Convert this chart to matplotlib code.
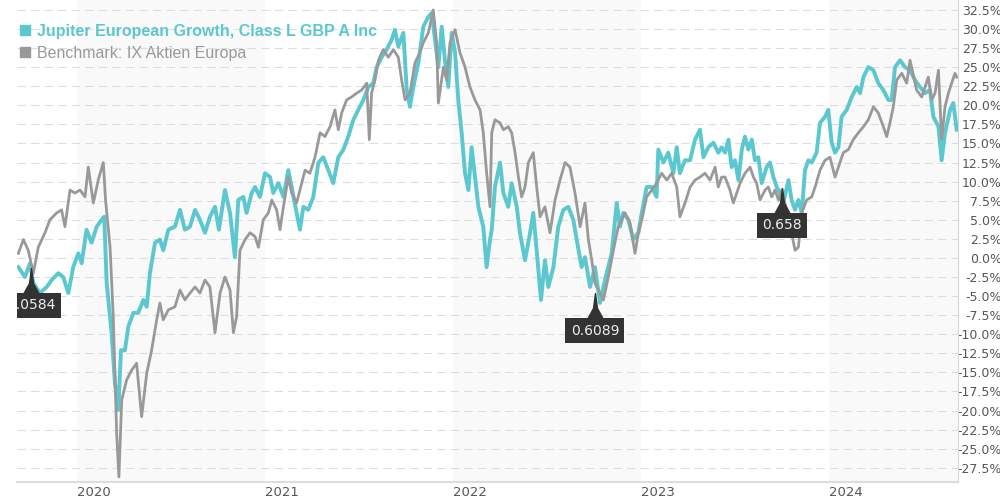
import matplotlib
matplotlib.use('Agg')
from matplotlib import pyplot as plt
from matplotlib.lines import Line2D
import numpy as np

# fund performance (% since start), time as decimal years
fund_years = [
    2019.688, 2019.723, 2019.750, 2019.768, 2019.803, 2019.839, 2019.865, 2019.901, 2019.927, 2019.954,
    2019.980, 2020.007, 2020.025, 2020.051, 2020.078, 2020.105, 2020.131, 2020.145, 2020.158, 2020.184,
    2020.202, 2020.220, 2020.234, 2020.255, 2020.273, 2020.300, 2020.326, 2020.353, 2020.371, 2020.388,
    2020.415, 2020.441, 2020.459, 2020.486, 2020.521, 2020.548, 2020.574, 2020.601, 2020.628, 2020.654,
    2020.681, 2020.707, 2020.734, 2020.755, 2020.787, 2020.814, 2020.840, 2020.858, 2020.885, 2020.902,
    2020.929, 2020.947,
    2020.973, 2021.000, 2021.027, 2021.044, 2021.071, 2021.098, 2021.124, 2021.142, 2021.168, 2021.186,
    2021.204, 2021.230, 2021.257, 2021.284, 2021.310, 2021.337, 2021.363, 2021.390, 2021.417, 2021.443,
    2021.470, 2021.496, 2021.523, 2021.550, 2021.576, 2021.594, 2021.621, 2021.647, 2021.674, 2021.691,
    2021.709, 2021.736, 2021.754, 2021.771, 2021.789, 2021.816, 2021.842, 2021.869, 2021.887, 2021.904,
    2021.922, 2021.940, 2021.957, 2021.975, 2021.993, 2022.011, 2022.028, 2022.046, 2022.064, 2022.082,
    2022.099, 2022.117, 2022.135, 2022.161, 2022.179, 2022.197,
    2022.206, 2022.223, 2022.250, 2022.268, 2022.294, 2022.312, 2022.339, 2022.356, 2022.383, 2022.410,
    2022.427, 2022.445, 2022.468, 2022.489, 2022.507, 2022.534, 2022.560, 2022.587, 2022.613, 2022.640,
    2022.658, 2022.684, 2022.702, 2022.729, 2022.755, 2022.782, 2022.800, 2022.817, 2022.844, 2022.871,
    2022.888, 2022.906, 2022.933, 2022.959, 2022.986, 2023.004, 2023.030, 2023.057, 2023.083, 2023.092,
    2023.119, 2023.145, 2023.172, 2023.190, 2023.207, 2023.234, 2023.261, 2023.287, 2023.314, 2023.332,
    2023.358, 2023.385, 2023.411, 2023.429, 2023.447,
    2023.465, 2023.482, 2023.500, 2023.518, 2023.536, 2023.553, 2023.571, 2023.589, 2023.606, 2023.624,
    2023.642, 2023.668, 2023.686, 2023.704, 2023.722, 2023.739, 2023.757, 2023.784, 2023.801, 2023.819,
    2023.837, 2023.855, 2023.872, 2023.890, 2023.908, 2023.934, 2023.952, 2023.979, 2023.996, 2024.014,
    2024.032, 2024.050, 2024.067, 2024.094, 2024.121, 2024.147, 2024.165, 2024.183, 2024.209, 2024.236,
    2024.262, 2024.289, 2024.316, 2024.333, 2024.351, 2024.378, 2024.404, 2024.431, 2024.457, 2024.484,
    2024.511, 2024.537, 2024.555, 2024.582, 2024.599, 2024.617, 2024.644, 2024.661, 2024.679,
]
fund_pct = [
    -1.2, -2.5, -0.7, -3.3, -4.6, -3.8, -2.9, -2.0, -2.5, -4.6,
    -1.2, 0.6, -0.7, 3.7, 2.0, 4.1, 5.0, 5.4, -3.3, -9.8,
    -16.4, -19.9, -12.1, -12.1, -9.0, -7.2, -7.2, -5.5, -6.4, -2.0,
    2.0, 2.4, 1.0, 3.7, 4.1, 6.3, 3.7, 4.1, 6.3, 5.0,
    3.3, 5.4, 6.7, 3.7, 8.9, 5.9, 0.1, 7.6, 8.0, 5.9,
    8.5, 9.3,
    8.0, 11.1, 10.6, 8.5, 9.8, 8.0, 11.5, 9.3, 5.9, 3.7,
    6.7, 6.3, 8.0, 12.5, 13.2, 11.5, 9.8, 13.2, 14.2, 15.9,
    18.1, 19.4, 20.7, 22.4, 22.9, 25.0, 26.3, 27.3, 28.6, 29.9,
    27.7, 29.5, 22.0, 19.8, 22.4, 25.6, 30.3, 31.6, 32.1, 28.6,
    25.0, 30.3, 25.9, 22.4, 29.5, 26.9, 20.7, 16.4, 11.1, 8.9,
    14.5, 10.6, 6.7, 4.1, -1.2, 2.4,
    3.7, 9.3, 12.5, 8.5, 6.7, 9.8, 6.7, 3.3, -0.3, 3.3,
    5.9, 1.0, -5.5, -0.3, -3.8, -1.2, 4.1, 6.3, 6.7, 5.0,
    2.4, -1.2, 0.1, -3.8, -1.2, -5.9, -3.8, -2.0, 0.6, 7.2,
    4.1, 5.9, 5.0, 2.4, 3.3, 5.9, 9.3, 9.3, 8.0, 14.2,
    12.5, 13.8, 11.1, 14.5, 11.1, 12.8, 12.8, 15.5, 16.8, 13.2,
    14.5, 15.1, 13.8, 14.5, 13.8,
    15.5, 11.9, 12.8, 10.2, 14.2, 15.9, 14.2, 15.5, 12.8, 13.2,
    9.8, 11.9, 12.5, 10.6, 9.3, 8.5, 7.2, 10.2, 7.6, 6.3,
    7.6, 5.9, 11.5, 12.8, 12.5, 13.8, 17.7, 18.5, 19.4, 15.1,
    13.8, 14.5, 18.5, 19.4, 21.1, 22.4, 21.6, 23.7, 25.0, 24.6,
    22.9, 22.0, 20.7, 20.7, 25.0, 25.9, 25.0, 24.6, 23.3, 22.4,
    21.6, 22.0, 18.5, 17.2, 12.8, 16.4, 19.4, 20.3, 16.8,
]

# benchmark
bench_years = [
    2019.688, 2019.715, 2019.741, 2019.768, 2019.794, 2019.830, 2019.856, 2019.892, 2019.918, 2019.936,
    2019.963, 2019.989, 2020.016, 2020.043, 2020.060, 2020.087, 2020.113, 2020.140, 2020.152, 2020.176,
    2020.193, 2020.211, 2020.223, 2020.238, 2020.264, 2020.291, 2020.317, 2020.344, 2020.371, 2020.397,
    2020.424, 2020.441, 2020.459, 2020.486, 2020.521, 2020.548, 2020.574, 2020.601, 2020.628, 2020.654,
    2020.681, 2020.707, 2020.734, 2020.761, 2020.787, 2020.814, 2020.832, 2020.849, 2020.867, 2020.894,
    2020.920, 2020.947,
    2020.965, 2020.991, 2021.018, 2021.036, 2021.062, 2021.080, 2021.098, 2021.124, 2021.142, 2021.168,
    2021.195, 2021.213, 2021.239, 2021.266, 2021.293, 2021.319, 2021.346, 2021.372, 2021.390, 2021.408,
    2021.434, 2021.461, 2021.488, 2021.514, 2021.541, 2021.555, 2021.567, 2021.585, 2021.603, 2021.629,
    2021.656, 2021.683, 2021.709, 2021.727, 2021.745, 2021.771, 2021.798, 2021.824, 2021.842, 2021.869,
    2021.895, 2021.913, 2021.922, 2021.949, 2021.966, 2021.984, 2022.011, 2022.037, 2022.064, 2022.090,
    2022.117, 2022.144, 2022.161, 2022.179, 2022.197,
    2022.206, 2022.223, 2022.250, 2022.268, 2022.294, 2022.312, 2022.330, 2022.348, 2022.365, 2022.383,
    2022.401, 2022.427, 2022.445, 2022.463, 2022.489, 2022.516, 2022.543, 2022.569, 2022.596, 2022.622,
    2022.649, 2022.676, 2022.702, 2022.720, 2022.738, 2022.755, 2022.782, 2022.800, 2022.826, 2022.853,
    2022.879, 2022.915, 2022.941, 2022.968, 2022.986, 2023.004, 2023.030, 2023.057, 2023.083, 2023.110,
    2023.137, 2023.163, 2023.190, 2023.207, 2023.234, 2023.261, 2023.287, 2023.314, 2023.340, 2023.367,
    2023.394, 2023.411, 2023.429, 2023.447,
    2023.473, 2023.491, 2023.509, 2023.527, 2023.553, 2023.580, 2023.598, 2023.615, 2023.633, 2023.660,
    2023.677, 2023.695, 2023.713, 2023.731, 2023.748, 2023.775, 2023.801, 2023.819, 2023.837, 2023.855,
    2023.881, 2023.908, 2023.926, 2023.952, 2023.979, 2024.005, 2024.032, 2024.050, 2024.076, 2024.103,
    2024.129, 2024.156, 2024.183, 2024.209, 2024.236, 2024.262, 2024.289, 2024.307, 2024.324, 2024.342,
    2024.360, 2024.387, 2024.413, 2024.431, 2024.466, 2024.493, 2024.511, 2024.528, 2024.546, 2024.564,
    2024.582, 2024.599, 2024.617, 2024.635, 2024.652, 2024.670, 2024.679,
]
bench_pct = [
    0.6, 2.4, 1.0, -2.0, 1.4, 3.3, 5.0, 5.9, 6.3, 4.1,
    8.9, 8.5, 8.9, 8.0, 11.9, 7.2, 10.2, 12.5, 7.6, 1.4,
    -7.7, -23.0, -28.7, -18.6, -16.0, -14.7, -13.8, -20.8, -15.1, -12.1,
    -8.1, -5.9, -8.1, -6.8, -6.4, -4.2, -5.5, -4.6, -3.8, -4.6,
    -2.9, -3.8, -9.8, -4.6, -2.5, -4.2, -9.8, -7.7, 1.0, 2.4,
    3.3, 2.8,
    1.4, 5.0, 5.9, 7.6, 6.3, 3.7, 6.7, 10.6, 8.5, 7.2,
    9.8, 11.5, 11.1, 13.2, 16.4, 15.9, 17.2, 19.4, 16.8, 19.0,
    20.7, 21.1, 21.6, 22.0, 22.9, 15.5, 21.6, 23.3, 25.9, 27.3,
    26.3, 27.3, 26.3, 23.3, 20.7, 21.6, 25.6, 26.9, 28.2, 29.5,
    32.5, 28.2, 20.3, 25.0, 23.3, 28.2, 29.9, 26.9, 25.0, 22.4,
    20.7, 19.4, 16.4, 11.1, 6.7,
    16.4, 18.1, 17.7, 16.8, 17.2, 16.4, 13.8, 10.6, 8.0, 9.3,
    12.5, 13.8, 9.3, 5.4, 6.7, 3.3, 7.6, 10.2, 12.5, 11.9,
    8.5, 4.1, 7.2, 2.4, -0.3, -3.3, -4.6, -5.5, -2.5, 1.0,
    4.1, 5.9, 4.6, 0.6, 3.3, 5.0, 8.0, 8.9, 9.8, 11.1,
    10.2, 11.1, 9.3, 5.4, 7.2, 9.3, 10.2, 10.6, 11.1, 10.2,
    11.9, 9.3, 10.6, 10.6,
    8.9, 7.2, 8.5, 9.8, 11.1, 11.9, 10.6, 9.8, 7.6, 8.9,
    9.3, 8.0, 8.9, 7.6, 8.9, 6.3, 3.3, 1.0, 1.4, 5.9,
    7.6, 8.0, 9.3, 11.5, 12.8, 13.2, 10.6, 11.9, 13.8, 14.2,
    15.5, 16.4, 17.2, 18.1, 19.8, 19.0, 17.2, 15.9, 17.7, 19.8,
    23.3, 24.2, 22.9, 25.9, 22.0, 21.1, 22.4, 23.7, 20.7, 21.6,
    24.6, 15.5, 19.8, 21.6, 22.9, 24.2, 23.7,
]

# distribution markers
marker_years = [2019.757, 2022.755, 2023.750]
marker_pct = [-1.3, -4.6, 9.2]
marker_text = ['1.0584', '0.6089', '0.658']

year_ticks = [2020, 2021, 2022, 2023, 2024]
shaded_years = [2020, 2022, 2024]
fund_name = 'Jupiter European Growth, Class L GBP A Inc'
bench_name = 'Benchmark: IX Aktien Europa'

TEAL = '#5bc8cf'
GREY = '#999999'

fig = plt.figure(figsize=(10, 5), dpi=100)
ax = fig.add_axes([0.017, 0.036, 0.941, 0.964])
x_min, x_max = 2019.681, 2024.686
ax.set_xlim(x_min, x_max)
ax.set_ylim(-29.36, 33.8)

for y0 in shaded_years:
    ax.axvspan(y0, min(y0 + 1, x_max), color='#f9f9f9', zorder=0, lw=0)

ax.plot(fund_years, fund_pct, color=TEAL, lw=2.8, solid_joinstyle='round', zorder=3)
ax.plot(bench_years, bench_pct, color=GREY, lw=2.0, solid_joinstyle='round', zorder=4)

# dark spike markers with value boxes
spike = [(0, 0), (-0.08, -0.6), (-0.3, -1), (0.3, -1), (0.08, -0.6), (0, 0)]
for t, v, s in zip(marker_years, marker_pct, marker_text):
    ax.plot([t], [v], marker=spike, ms=36, color='#333333', ls='none', zorder=6)
    ax.annotate(s, xy=(t, v), xytext=(0, -37.5), textcoords='offset pixels',
                ha='center', va='center', fontsize=10, color='#eeeeee',
                bbox=dict(boxstyle='square,pad=0.38', fc='#333333', ec='none'),
                clip_on=True, zorder=7)

# y axis on the right
yt = np.arange(-27.5, 33, 2.5)
ax.set_yticks(yt)
ax.set_yticklabels([f'{v:.1f}%' for v in yt])
ax.yaxis.tick_right()
ax.tick_params(axis='y', length=0, pad=31.5, labelsize=9, labelcolor='#555555')
plt.setp(ax.get_yticklabels(), ha='right')
ax.grid(axis='y', ls=(0, (8, 5)), color='#dddddd', lw=0.75)
ax.set_axisbelow(True)

ax.set_xticks(year_ticks)
ax.set_xticklabels([str(y) for y in year_ticks])
ax.tick_params(axis='x', length=0, pad=3, labelsize=9.5, labelcolor='#555555')
plt.setp(ax.get_xticklabels(), ha='left')

ax.spines['top'].set_visible(False)
ax.spines['left'].set_visible(False)
ax.spines['right'].set_color('#d5d5d5')
ax.spines['bottom'].set_color('#dddddd')
ax.spines['bottom'].set_linewidth(1.5)

handles = [Line2D([], [], marker='s', ls='none', color=TEAL, ms=7),
           Line2D([], [], marker='s', ls='none', color=GREY, ms=7)]
leg = ax.legend(handles, [fund_name, bench_name], loc='upper left',
                bbox_to_anchor=(0.019, 0.952), bbox_transform=fig.transFigure,
                frameon=False, handlelength=0.7, handletextpad=0.4,
                labelspacing=0.42, borderpad=0, borderaxespad=0,
                prop={'family': 'Liberation Sans', 'size': 11.5})
leg.get_texts()[0].set_color(TEAL)
leg.get_texts()[0].set_fontweight('bold')
leg.get_texts()[1].set_color(GREY)

plt.savefig('out.png', dpi=100)
